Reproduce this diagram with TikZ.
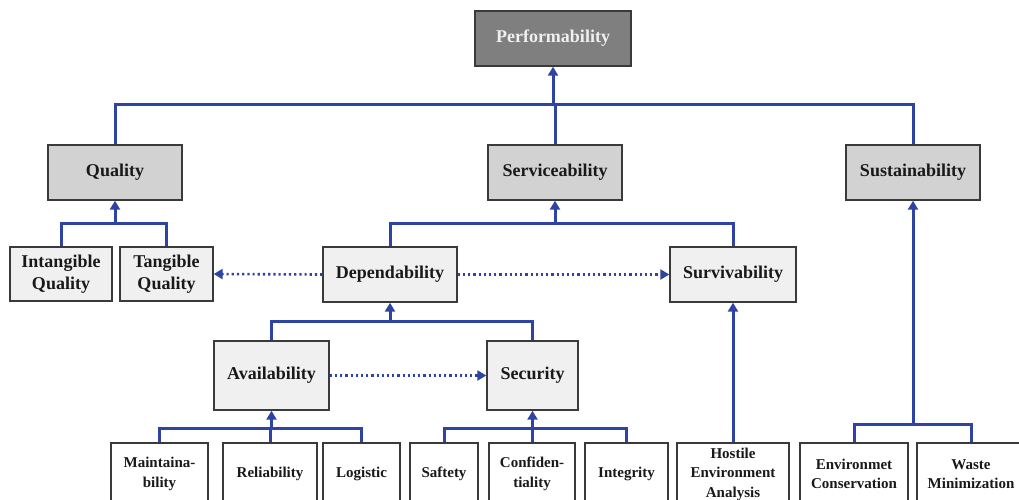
\documentclass[tikz,border=0pt]{standalone}
\usepackage{fontspec}
\setmainfont{Liberation Serif}
\usetikzlibrary{arrows.meta}
\definecolor{lineblue}{HTML}{2E44A3}
\definecolor{topfill}{HTML}{7F7F7F}
\definecolor{midfill}{HTML}{D2D2D2}
\definecolor{lowfill}{HTML}{F0F0F0}
\definecolor{edge}{HTML}{3A3A3A}
\tikzset{
  box/.style={draw=edge, line width=1.4pt, rectangle, inner sep=0pt, align=center,
    font=\fontsize{18}{22}\selectfont\bfseries, text=black!90},
  topbox/.style={box, fill=topfill, text=white!94!black},
  midbox/.style={box, fill=midfill},
  lowbox/.style={box, fill=lowfill},
  leafbox/.style={box, fill=white, font=\fontsize{15}{19.5}\selectfont\bfseries, minimum height=62pt},
  link/.style={draw=lineblue, line width=3pt},
  arr/.style={link, -{Triangle[length=9pt,width=10pt]}},
  dots/.style={draw=lineblue, line width=2.6pt, dash pattern=on 2.2pt off 3pt,
    -{Triangle[length=9pt,width=10pt]}},
}
\begin{document}
\begin{tikzpicture}[x=1pt,y=-1pt]
\useasboundingbox (0,0) rectangle (1019,499);
\clip (0,0) rectangle (1019,499);
\fill[white] (0,0) rectangle (1019,499);

% level 0
\node[topbox, minimum width=156pt, minimum height=55pt] (perf) at (553,38.5) {Performability};
% level 1
\node[midbox, minimum width=134pt, minimum height=55pt] (qual) at (115,172.5) {Quality};
\node[midbox, minimum width=134pt, minimum height=55pt] (serv) at (555,172.5) {Serviceability};
\node[midbox, minimum width=134pt, minimum height=55pt] (sust) at (913,172.5) {Sustainability};
% level 2
\node[lowbox, minimum width=102pt, minimum height=54pt] (intq) at (61,274) {Intangible\\Quality};
\node[lowbox, minimum width=93pt, minimum height=54pt] (tanq) at (166.5,274) {Tangible\\Quality};
\node[lowbox, minimum width=134pt, minimum height=55pt] (depe) at (390,274.5) {Dependability};
\node[lowbox, minimum width=126pt, minimum height=55pt] (surv) at (733,274.5) {Survivability};
% level 3
\node[lowbox, minimum width=115pt, minimum height=69pt] (avai) at (271.5,375.5) {Availability};
\node[lowbox, minimum width=91pt, minimum height=69pt] (secu) at (532.5,375.5) {Security};
% leaves
\node[leafbox, minimum width=97pt] (main) at (159.5,474) {Maintaina-\\bility};
\node[leafbox, minimum width=94pt] (reli) at (270,474) {Reliability};
\node[leafbox, minimum width=77pt] (logi) at (361.5,474) {Logistic};
\node[leafbox, minimum width=68pt] (safe) at (444,474) {Saftety};
\node[leafbox, minimum width=86pt] (conf) at (532,474) {Confiden-\\tiality};
\node[leafbox, minimum width=83pt] (inte) at (626.5,474) {Integrity};
\node[leafbox, minimum width=112pt] (host) at (733,474) {Hostile\\Environment\\Analysis};
\node[leafbox, minimum width=108pt] (envc) at (854,474) {Environmet\\Conservation};
\node[leafbox, minimum width=108pt] (wast) at (971,474) {Waste\\Minimization};

% bus coordinates
\coordinate (b0) at (perf.south |- 0,104);
\coordinate (bq) at (qual.south |- 0,223);
\coordinate (bs) at (serv.south |- 0,223);
\coordinate (bd) at (depe.south |- 0,321);
\coordinate (ba) at (reli.north |- 0,428);
\coordinate (bc) at (conf.north |- 0,428);
\coordinate (bt) at (sust.south |- 0,424);

% top bus
\draw[link] (qual.north) |- (b0) -| (sust.north);
\draw[link] (serv.north) -- (serv.north |- b0);
\draw[arr] (b0) -- (perf.south);
% quality
\draw[link] (intq.north) |- (bq) -| (tanq.north);
\draw[arr] (bq) -- (qual.south);
% serviceability
\draw[link] (depe.north) |- (bs) -| (surv.north);
\draw[arr] (bs) -- (serv.south);
% dependability
\draw[link] (avai.north) |- (bd) -| (secu.north);
\draw[arr] (bd) -- (depe.south);
% availability
\draw[link] (main.north) |- (ba) -| (logi.north);
\draw[link] (reli.north) -- (ba);
\draw[arr] (ba) -- (ba -| avai.south) -- (avai.south);
% security
\draw[link] (safe.north) |- (bc) -| (inte.north);
\draw[link] (conf.north) -- (bc);
\draw[arr] (bc) -- (bc -| secu.south) -- (secu.south);
% survivability
\draw[arr] (host.north) -- (surv.south);
% sustainability
\draw[link] (envc.north) |- (bt) -| (wast.north);
\draw[arr] (bt) -- (sust.south);

% dotted relations
\draw[dots] (depe.west) -- (tanq.east);
\draw[dots] (depe.east) -- (surv.west);
\draw[dots] (avai.east) -- (secu.west);
\end{tikzpicture}
\end{document}
